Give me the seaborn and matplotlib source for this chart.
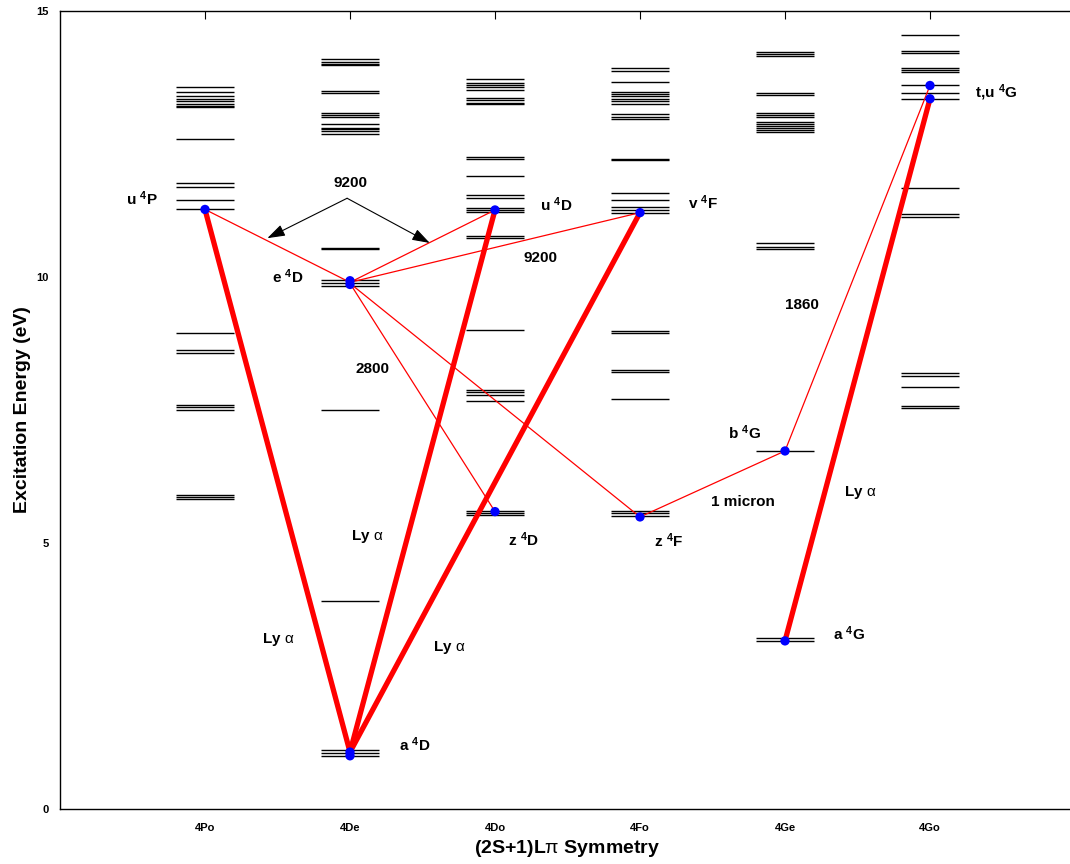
import matplotlib
matplotlib.use("Agg")
import matplotlib.pyplot as plt
import seaborn as sns
import pandas as pd

# Term symmetries along the x axis
symmetries = ["4Po", "4De", "4Do", "4Fo", "4Ge", "4Go"]

# Level energies (eV) for each symmetry column
levels_4Po = [13.58, 13.48, 13.40, 13.34, 13.30, 13.26, 13.22, 13.19, 12.59,
              11.76, 11.69, 11.44, 11.27, 8.94, 8.62, 8.58, 7.59, 7.55, 7.50,
              5.90, 5.86, 5.83]
levels_4De = [14.09, 14.05, 14.01, 13.98, 13.49, 13.45, 13.08, 13.05, 13.01,
              12.88, 12.81, 12.78, 12.74, 12.69, 10.55, 10.52, 9.94, 9.89,
              9.83, 7.50, 3.91, 1.10, 1.05, 0.99]
levels_4Do = [13.72, 13.65, 13.61, 13.58, 13.52, 13.37, 13.33, 13.28, 13.26,
              12.26, 12.22, 11.90, 11.54, 11.49, 11.30, 11.26, 11.22, 10.77,
              10.73, 9.00, 7.88, 7.83, 7.78, 7.67, 5.61, 5.57, 5.53]
levels_4Fo = [13.92, 13.87, 13.67, 13.48, 13.44, 13.40, 13.34, 13.30, 13.25,
              13.06, 13.01, 12.97, 12.21, 12.19, 11.58, 11.45, 11.31, 11.26,
              11.21, 8.99, 8.95, 8.25, 8.21, 7.71, 5.61, 5.56, 5.51]
levels_4Ge = [14.23, 14.19, 14.15, 13.46, 13.43, 13.08, 13.05, 13.01, 12.91,
              12.87, 12.84, 12.80, 12.76, 12.73, 10.63, 10.57, 10.53, 6.73,
              3.22, 3.16]
levels_4Go = [14.54, 14.25, 14.21, 13.92, 13.89, 13.86, 13.61, 13.46, 13.35,
              11.67, 11.19, 11.13, 8.20, 8.14, 7.94, 7.57, 7.53]

# Levels marked with a dot (symmetry, energy)
marked_sym = ["4Po", "4De", "4De", "4De", "4De", "4Do", "4Do", "4Fo", "4Fo",
              "4Ge", "4Ge", "4Go", "4Go"]
marked_energy = [11.27, 9.93, 9.86, 1.07, 1.00, 11.26, 5.59, 11.21, 5.49,
                 6.73, 3.16, 13.60, 13.35]

# Lyman-alpha pumped transitions (upper -> lower)
ly_from_sym = ["4Po", "4Do", "4Fo", "4Go"]
ly_from_e = [11.27, 11.26, 11.21, 13.35]
ly_to_sym = ["4De", "4De", "4De", "4Ge"]
ly_to_e = [1.07, 1.07, 1.07, 3.16]

# Fluorescent cascade transitions
cas_from_sym = ["4Po", "4Do", "4Fo", "4De", "4De", "4Fo", "4Go"]
cas_from_e = [11.27, 11.26, 11.21, 9.88, 9.88, 5.49, 13.60]
cas_to_sym = ["4De", "4De", "4De", "4Do", "4Fo", "4Ge", "4Ge"]
cas_to_e = [9.90, 9.90, 9.90, 5.59, 5.49, 6.73, 6.73]

# Text labels: (string, x position, energy)
labels_text = ["u $^{\\mathbf{4}}$P", "e $^{\\mathbf{4}}$D", "u $^{\\mathbf{4}}$D",
               "v $^{\\mathbf{4}}$F", "t,u $^{\\mathbf{4}}$G", "b $^{\\mathbf{4}}$G",
               "z $^{\\mathbf{4}}$D", "z $^{\\mathbf{4}}$F", "a $^{\\mathbf{4}}$G",
               "a $^{\\mathbf{4}}$D", "9200", "1860", "2800", "1 micron",
               "Ly $\\mathrm{\\alpha}$", "Ly $\\mathrm{\\alpha}$",
               "Ly $\\mathrm{\\alpha}$", "Ly $\\mathrm{\\alpha}$"]
labels_x = [0.455, 1.46, 3.31, 4.33, 6.31, 4.61, 3.09, 4.10, 5.33, 2.34,
            3.20, 5.00, 2.04, 4.49, 2.01, 5.41, 1.39, 2.57]
labels_y = [11.47, 10.00, 11.35, 11.39, 13.46, 7.07, 5.06, 5.04, 3.29, 1.20,
            10.36, 9.47, 8.27, 5.77, 5.13, 5.94, 3.18, 3.03]

sns.set_theme(style="white")
plt.rcParams["font.family"] = ["Liberation Sans", "DejaVu Sans"]
plt.rcParams["mathtext.fontset"] = "custom"
plt.rcParams["mathtext.rm"] = "Liberation Sans"
plt.rcParams["mathtext.bf"] = "Liberation Sans:bold"
plt.rcParams["mathtext.it"] = "Liberation Sans:italic"
plt.rcParams["text.color"] = "black"
plt.rcParams["axes.labelcolor"] = "black"
plt.rcParams["xtick.color"] = "black"
plt.rcParams["ytick.color"] = "black"

fig = plt.figure(figsize=(10.70, 8.64), dpi=100)
ax = fig.add_axes([60 / 1070, 55 / 864, 1015 / 1070, 798 / 864])

xpos = {s: i + 1 for i, s in enumerate(symmetries)}
all_levels = [levels_4Po, levels_4De, levels_4Do, levels_4Fo, levels_4Ge, levels_4Go]

# Energy level bars
level_df = pd.DataFrame(
    [(xpos[s], e) for s, lev in zip(symmetries, all_levels) for e in lev],
    columns=["x", "energy"])
ax.hlines(level_df["energy"], level_df["x"] - 0.2, level_df["x"] + 0.2,
          color="black", lw=1.0, zorder=2)

# Transitions
for fs, fe, ts, te in zip(cas_from_sym, cas_from_e, cas_to_sym, cas_to_e):
    ax.plot([xpos[fs], xpos[ts]], [fe, te], color="red", lw=0.9, zorder=3)
for fs, fe, ts, te in zip(ly_from_sym, ly_from_e, ly_to_sym, ly_to_e):
    ax.plot([xpos[fs], xpos[ts]], [fe, te], color="red", lw=3.8,
            solid_capstyle="butt", zorder=4)

# Dots on the levels involved
dots = pd.DataFrame({"x": [xpos[s] for s in marked_sym], "energy": marked_energy})
sns.scatterplot(data=dots, x="x", y="energy", color="blue", s=45,
                edgecolor="none", zorder=5, ax=ax)

# Arrows from the 9200 label
for tip in [(1.43, 10.73), (2.55, 10.64)]:
    ax.annotate("", xy=tip, xytext=(1.98, 11.48),
                arrowprops=dict(arrowstyle="-|>,head_length=0.9,head_width=0.3",
                                color="black", lw=0.8, shrinkA=0, shrinkB=0))
ax.text(2.0, 11.77, "9200", ha="center", va="center", fontsize=11,
        fontweight="bold", color="black")

for t, x, y in zip(labels_text, labels_x, labels_y):
    ax.text(x, y, t, ha="left", va="center", fontsize=11, fontweight="bold",
            color="black")

ax.set_xlim(0, 7)
ax.set_ylim(0, 15)
ax.set_xticks(list(range(1, 7)))
ax.set_xticklabels(symmetries)
ax.set_yticks([0, 5, 10, 15])
ax.tick_params(axis="both", direction="in", length=6, width=0.8,
               labelsize=8, top=True, right=False, color="black")
for lab in ax.get_xticklabels() + ax.get_yticklabels():
    lab.set_fontweight("bold")
ax.tick_params(axis="x", pad=10)
ax.tick_params(axis="y", pad=8)
for sp in ax.spines.values():
    sp.set_color("black")
    sp.set_linewidth(1.0)
ax.set_xlabel("(2S+1)L$\\mathrm{\\pi}$ Symmetry", fontsize=14, fontweight="bold",
              labelpad=4, color="black")
ax.set_ylabel("Excitation Energy (eV)", fontsize=14, fontweight="bold",
              labelpad=4, color="black")

fig.savefig("out.png", dpi=100)
